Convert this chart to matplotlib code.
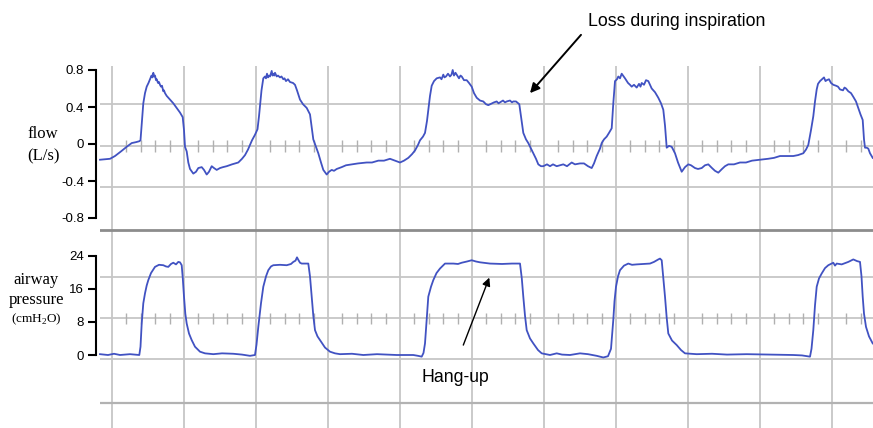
import matplotlib.pyplot as plt

plt.rcParams['font.family'] = 'Liberation Sans'
plt.rcParams['axes.unicode_minus'] = False

# flow trace: (time ms, flow L/s)
flow_points = [
    (-120, -0.17), (-20, -0.16), (30, -0.13), (90, -0.08), (147, -0.03), (197, 0.01),
    (240, 0.02), (273, 0.03), (285, 0.04), (300, 0.25), (313, 0.44), (330, 0.55),
    (347, 0.62), (365, 0.66), (380, 0.70), (395, 0.74), (405, 0.72), (413, 0.77),
    (422, 0.73), (430, 0.74), (440, 0.69), (447, 0.70), (460, 0.66), (470, 0.67),
    (480, 0.64), (490, 0.62), (500, 0.63), (513, 0.57), (520, 0.58), (530, 0.55),
    (547, 0.52), (563, 0.50), (580, 0.48), (613, 0.44), (647, 0.39), (680, 0.34),
    (707, 0.29), (720, 0.15), (730, -0.03), (747, -0.08), (763, -0.20), (780, -0.27),
    (813, -0.32), (840, -0.30), (863, -0.26), (897, -0.25), (920, -0.28), (947, -0.33),
    (970, -0.30), (997, -0.24), (1020, -0.26), (1047, -0.28), (1080, -0.26),
    (1110, -0.25), (1147, -0.24), (1200, -0.22), (1263, -0.20), (1300, -0.16),
    (1330, -0.12), (1360, -0.06), (1400, 0.04), (1430, 0.10), (1455, 0.16),
    (1470, 0.30), (1480, 0.41), (1495, 0.58), (1513, 0.71), (1530, 0.73), (1540, 0.71),
    (1550, 0.76), (1560, 0.72), (1570, 0.74), (1580, 0.73), (1597, 0.79), (1605, 0.74),
    (1613, 0.76), (1622, 0.74), (1630, 0.77), (1647, 0.73), (1660, 0.74), (1680, 0.72),
    (1695, 0.73), (1713, 0.70), (1725, 0.71), (1740, 0.68), (1760, 0.70), (1780, 0.67),
    (1810, 0.66), (1830, 0.64), (1850, 0.58), (1880, 0.48), (1910, 0.43), (1947, 0.39),
    (1980, 0.32), (1995, 0.20), (2013, 0.05), (2040, -0.03), (2063, -0.10),
    (2090, -0.20), (2113, -0.28), (2147, -0.33), (2170, -0.30), (2197, -0.28),
    (2220, -0.29), (2247, -0.27), (2297, -0.25), (2340, -0.23), (2397, -0.22),
    (2460, -0.21), (2547, -0.20), (2600, -0.20), (2663, -0.18), (2720, -0.18),
    (2780, -0.16), (2830, -0.18), (2880, -0.20), (2920, -0.18), (2963, -0.15),
    (3000, -0.11), (3030, -0.07), (3060, -0.01), (3080, 0.04), (3110, 0.08),
    (3130, 0.12), (3150, 0.25), (3163, 0.37), (3180, 0.52), (3197, 0.63), (3220, 0.68),
    (3247, 0.71), (3280, 0.72), (3295, 0.70), (3313, 0.75), (3325, 0.72), (3340, 0.73),
    (3360, 0.76), (3380, 0.73), (3395, 0.75), (3407, 0.80), (3420, 0.74), (3435, 0.77),
    (3447, 0.75), (3470, 0.71), (3485, 0.74), (3497, 0.73), (3520, 0.69), (3547, 0.69),
    (3570, 0.66), (3597, 0.62), (3620, 0.55), (3647, 0.50), (3680, 0.47), (3713, 0.46),
    (3740, 0.43), (3763, 0.42), (3800, 0.44), (3820, 0.45), (3847, 0.46), (3865, 0.44),
    (3880, 0.45), (3910, 0.47), (3930, 0.45), (3947, 0.46), (3980, 0.47), (4000, 0.45),
    (4013, 0.46), (4040, 0.46), (4073, 0.43), (4090, 0.30), (4113, 0.12), (4140, 0.05),
    (4163, 0.01), (4190, -0.05), (4213, -0.10), (4240, -0.16), (4263, -0.22),
    (4290, -0.24), (4313, -0.24), (4350, -0.22), (4380, -0.24), (4410, -0.22),
    (4447, -0.24), (4480, -0.23), (4513, -0.22), (4550, -0.24), (4597, -0.20),
    (4630, -0.22), (4680, -0.21), (4720, -0.21), (4760, -0.24), (4797, -0.26),
    (4820, -0.21), (4847, -0.13), (4880, -0.05), (4897, 0.01), (4920, 0.05),
    (4947, 0.08), (4970, 0.12), (4997, 0.17), (5013, 0.44), (5030, 0.68), (5050, 0.70),
    (5063, 0.73), (5080, 0.71), (5097, 0.76), (5110, 0.74), (5130, 0.71), (5160, 0.66),
    (5180, 0.64), (5197, 0.62), (5220, 0.64), (5247, 0.61), (5270, 0.65), (5285, 0.62),
    (5297, 0.66), (5320, 0.64), (5340, 0.69), (5363, 0.68), (5380, 0.64), (5397, 0.60),
    (5430, 0.56), (5463, 0.50), (5490, 0.44), (5513, 0.37), (5530, 0.20), (5547, -0.04),
    (5570, -0.02), (5597, -0.03), (5630, -0.10), (5660, -0.20), (5697, -0.30),
    (5730, -0.25), (5763, -0.22), (5790, -0.23), (5830, -0.26), (5860, -0.27),
    (5897, -0.26), (5930, -0.23), (5963, -0.22), (6000, -0.26), (6030, -0.29),
    (6063, -0.31), (6100, -0.27), (6130, -0.24), (6163, -0.22), (6220, -0.22),
    (6280, -0.20), (6340, -0.20), (6400, -0.18), (6480, -0.17), (6560, -0.16),
    (6620, -0.15), (6680, -0.13), (6740, -0.13), (6813, -0.13), (6860, -0.12),
    (6913, -0.10), (6940, -0.06), (6963, -0.01), (6990, 0.15), (7013, 0.30),
    (7030, 0.46), (7047, 0.59), (7060, 0.65), (7080, 0.68), (7100, 0.70), (7120, 0.72),
    (7135, 0.68), (7147, 0.69), (7170, 0.70), (7190, 0.66), (7213, 0.64), (7240, 0.63),
    (7260, 0.62), (7280, 0.59), (7310, 0.58), (7325, 0.61), (7340, 0.60), (7363, 0.57),
    (7390, 0.55), (7413, 0.51), (7440, 0.46), (7463, 0.39), (7485, 0.32), (7507, 0.26),
    (7520, 0.05), (7530, -0.04), (7547, -0.04), (7563, -0.05), (7580, -0.10),
    (7607, -0.15),
]

# airway pressure trace: (time ms, pressure cmH2O)
paw_points = [
    (-120, 0.2), (-40, 0.0), (20, 0.3), (80, 0.0), (180, 0.2), (273, 0.0), (285, 2.0),
    (297, 7.6), (313, 12.5), (330, 14.9), (347, 16.8), (363, 18.1), (390, 19.8),
    (430, 21.3), (470, 21.8), (513, 21.7), (540, 21.4), (563, 21.3), (590, 22.0),
    (613, 22.3), (640, 21.9), (663, 22.5), (680, 22.4), (697, 21.7), (708, 18.5),
    (720, 14.1), (733, 10.0), (747, 7.6), (770, 5.2), (797, 3.6), (830, 2.0),
    (880, 0.8), (930, 0.4), (1013, 0.2), (1100, 0.4), (1213, 0.3), (1300, 0.1),
    (1380, -0.2), (1430, 0.0), (1445, 2.5), (1463, 6.8), (1490, 12.5), (1513, 16.5),
    (1540, 19.0), (1563, 20.5), (1590, 21.4), (1613, 21.7), (1680, 21.8), (1747, 21.7),
    (1790, 22.0), (1813, 22.5), (1835, 22.8), (1850, 23.6), (1863, 23.0), (1880, 22.3),
    (1897, 22.1), (1963, 22.1), (1980, 19.0), (1997, 14.1), (2013, 9.5), (2030, 6.0),
    (2055, 4.5), (2080, 3.6), (2130, 1.8), (2180, 0.8), (2230, 0.4), (2280, 0.2),
    (2400, 0.3), (2513, 0.0), (2650, 0.2), (2847, 0.0), (3013, 0.0), (3060, -0.2),
    (3097, -0.4), (3115, 0.5), (3130, 2.8), (3145, 8.0), (3163, 14.1), (3190, 16.5),
    (3213, 18.1), (3245, 19.8), (3280, 20.9), (3330, 22.1), (3413, 22.1), (3460, 22.0),
    (3497, 22.3), (3550, 22.6), (3597, 22.9), (3640, 22.6), (3680, 22.4), (3780, 22.1),
    (3900, 22.0), (4000, 22.1), (4080, 22.1), (4098, 18.5), (4113, 14.1), (4130, 9.5),
    (4147, 6.0), (4180, 4.0), (4213, 2.8), (4260, 1.2), (4297, 0.4), (4380, 0.0),
    (4447, 0.4), (4500, 0.1), (4580, 0.0), (4680, 0.4), (4760, 0.2), (4847, -0.2),
    (4913, -0.6), (4960, -0.3), (4990, 1.5), (5013, 8.5), (5025, 13.0), (5040, 16.5),
    (5060, 19.0), (5080, 20.5), (5120, 21.6), (5163, 22.1), (5200, 21.8), (5247, 21.9),
    (5320, 22.0), (5380, 22.1), (5420, 22.5), (5463, 23.1), (5480, 23.3), (5497, 22.9),
    (5512, 19.0), (5530, 14.1), (5547, 9.0), (5563, 5.2), (5600, 3.5), (5647, 2.4),
    (5690, 1.2), (5730, 0.4), (5847, 0.2), (6000, 0.3), (6150, 0.1), (6347, 0.2),
    (6600, 0.1), (6813, 0.0), (6900, -0.1), (6980, -0.4), (6995, 1.5), (7013, 6.0),
    (7030, 12.0), (7047, 16.5), (7070, 18.5), (7097, 19.7), (7130, 21.0), (7163, 21.7),
    (7213, 22.3), (7230, 21.6), (7247, 22.1), (7297, 21.9), (7330, 22.2), (7363, 22.5),
    (7413, 23.1), (7450, 22.7), (7480, 22.5), (7495, 19.0), (7507, 14.1), (7520, 10.0),
    (7540, 6.8), (7570, 4.5), (7607, 2.8),
]

flow_ticks = [-0.8, -0.4, 0, 0.4, 0.8]
flow_ticklabels = ["-0.8", "-0.4", "0", "0.4", "0.8"]
paw_ticks = [0, 8, 16, 24]

flow_t, flow_v = zip(*flow_points)
paw_t, paw_v = zip(*paw_points)

W, H = 873, 428
fig = plt.figure(figsize=(W / 100, H / 100), dpi=100)


def box(x0, y0, x1, y1):
    # pixel box measured from the top-left corner -> figure rect
    return [x0 / W, 1 - y1 / H, (x1 - x0) / W, (y1 - y0) / H]


def fpos(x, y):
    return x / W, 1 - y / H


t0, t1 = -120, 7610
div = 720  # one major grid division (ms)
trace_color = '#4152c2'

# chart-paper grid behind both traces (rows in screen pixels)
grid = fig.add_axes(box(100, 66, 873, 428))
grid.set_xlim(t0, t1)
grid.set_ylim(428, 66)
grid.axis('off')
for k in range(11):
    grid.axvline(k * div, color='#c6c6c6', lw=1.3)
for r in [104, 146, 187, 277, 318, 359]:
    grid.axhline(r, color='#c6c6c6', lw=1.3)
grid.axhline(230, color='#8c8c8c', lw=2.0)
grid.axhline(403, color='#b2b2b2', lw=1.6)
minor = [k * div / 5 for k in range(1, 53) if k % 5]
grid.vlines(minor, 140, 152, color='#b0b0b0', lw=1.0)
grid.vlines(minor, 313, 324, color='#b0b0b0', lw=1.0)

ax_f = fig.add_axes(box(100, 70, 873, 218))
ax_p = fig.add_axes(box(100, 255.7, 873, 355))
for ax in (ax_f, ax_p):
    ax.patch.set_alpha(0)
    ax.set_xlim(t0, t1)
    ax.set_xticks([])
    for s in ['top', 'right', 'bottom']:
        ax.spines[s].set_visible(False)
    ax.spines['left'].set_position(('outward', 2.9))
    ax.spines['left'].set_linewidth(1.5)
    ax.tick_params(axis='y', length=5.8, width=1.5, pad=3, labelsize=9.5)

ax_f.plot(flow_t, flow_v, color=trace_color, lw=1.3, clip_on=False)
ax_f.set_ylim(-0.8, 0.8)
ax_f.set_yticks(flow_ticks)
ax_f.set_yticklabels(flow_ticklabels)

ax_p.plot(paw_t, paw_v, color=trace_color, lw=1.3, clip_on=False)
ax_p.set_ylim(0, 24)
ax_p.set_yticks(paw_ticks)

# axis titles
serif = 'Liberation Serif'
fig.text(*fpos(43, 134), 'flow', family=serif, fontsize=12, ha='center', va='center')
fig.text(*fpos(43, 156), '(L/s)', family=serif, fontsize=12, ha='center', va='center')
fig.text(*fpos(36.5, 280), 'airway', family=serif, fontsize=12, ha='center', va='center')
fig.text(*fpos(36.5, 300.5), 'pressure', family=serif, fontsize=12, ha='center', va='center')
fig.text(*fpos(36, 319.5), r'(cmH$_\mathregular{2}$O)', family=serif, fontsize=9.5,
         ha='center', va='center')

# callouts
ax_f.annotate('', xy=(4180, 0.55), xytext=(4690, 1.18), annotation_clip=False,
              arrowprops=dict(arrowstyle='-|>', color='black', lw=1.4,
                              mutation_scale=14, shrinkA=0, shrinkB=0))
ax_f.text(5650, 1.32, 'Loss during inspiration', fontsize=12.8, ha='center',
          va='center', clip_on=False)
ax_p.annotate('', xy=(3773, 18.7), xytext=(3513, 2.4), annotation_clip=False,
              arrowprops=dict(arrowstyle='-|>', color='black', lw=1.0,
                              mutation_scale=12, shrinkA=0, shrinkB=0))
ax_p.text(3435, -5.5, 'Hang-up', fontsize=12.7, ha='center', va='center', clip_on=False)

fig.savefig('out.png', dpi=100)
